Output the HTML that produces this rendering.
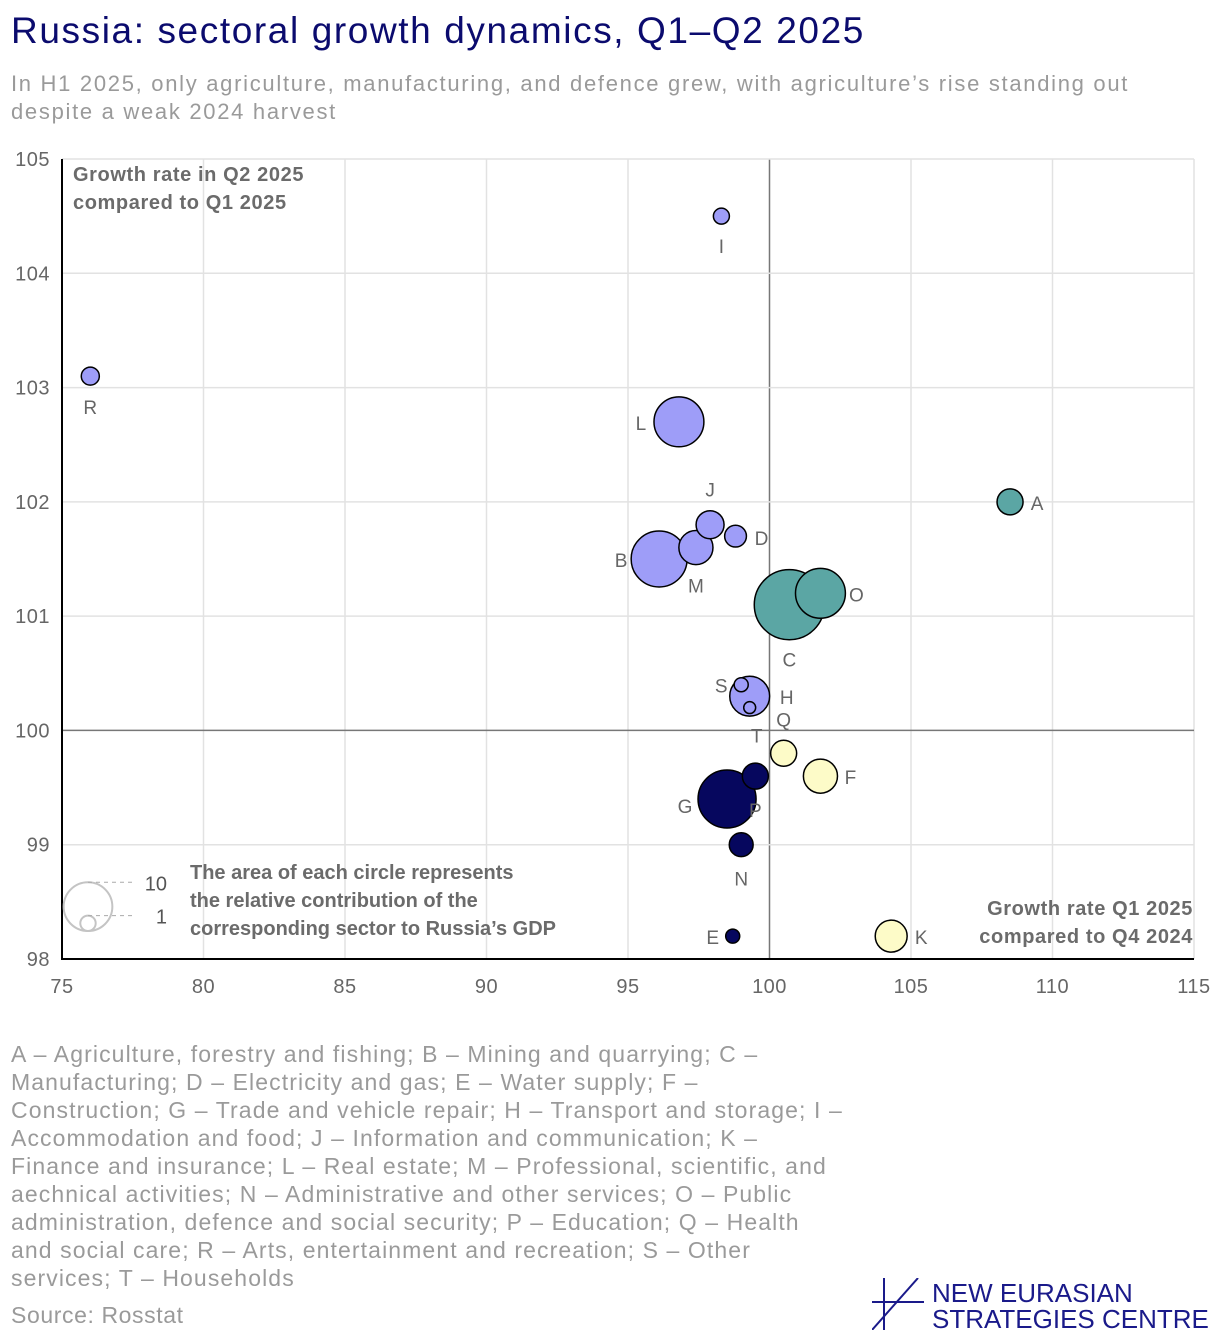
<!DOCTYPE html>
<html><head><meta charset="utf-8">
<style>
body{margin:0;background:#fff;width:1220px;height:1340px;position:relative;font-family:"Liberation Sans",sans-serif;overflow:hidden}
.title{position:absolute;left:11px;top:10px;font-size:37px;color:#0b0b6e;letter-spacing:1.6px;white-space:nowrap}
.sub{position:absolute;left:11px;top:70px;font-size:22px;color:#9a9a9a;line-height:28px;letter-spacing:1.7px;white-space:nowrap}
.notes{position:absolute;left:11px;top:1040px;font-size:23px;color:#9a9a9a;line-height:28px;letter-spacing:1.1px;white-space:nowrap}
.src{position:absolute;left:11px;top:1302px;font-size:23px;color:#9a9a9a;letter-spacing:0.6px}
.logotext{position:absolute;left:932px;top:1280px;font-size:26px;line-height:26px;color:#1a1a8a;white-space:nowrap;letter-spacing:0px}
svg{position:absolute;left:0;top:0}
</style></head><body>
<div class="title">Russia: sectoral growth dynamics, Q1–Q2 2025</div>
<div class="sub">In H1 2025, only agriculture, manufacturing, and defence grew, with agriculture’s rise standing out<br>despite a weak 2024 harvest</div>
<svg id="chart" width="1220" height="1000"></svg>
<div class="notes">A – Agriculture, forestry and fishing; B – Mining and quarrying; C –<br>Manufacturing; D – Electricity and gas; E – Water supply; F –<br>Construction; G – Trade and vehicle repair; H – Transport and storage; I –<br>Accommodation and food; J – Information and communication; K –<br>Finance and insurance; L – Real estate; M – Professional, scientific, and<br>aechnical activities; N – Administrative and other services; O – Public<br>administration, defence and social security; P – Education; Q – Health<br>and social care; R – Arts, entertainment and recreation; S – Other<br>services; T – Households</div>
<div class="src">Source: Rosstat</div>
<svg width="52" height="52" style="left:872px;top:1278px">
<line x1="12" y1="0" x2="12" y2="52" stroke="#1a1a8a" stroke-width="2"/>
<line x1="0" y1="24" x2="52" y2="24" stroke="#1a1a8a" stroke-width="2"/>
<line x1="46" y1="0" x2="0" y2="52" stroke="#1a1a8a" stroke-width="2"/>
</svg>
<div class="logotext">NEW EURASIAN<br>STRATEGIES CENTRE</div>
<script>
const labels=["A","B","C","D","E","F","G","H","I","J","K","L","M","N","O","P","Q","R","S","T"];
const q1Growth=[108.5,96.1,100.7,98.8,98.7,101.8,98.5,99.3,98.3,97.9,104.3,96.8,97.4,99.0,101.8,99.5,100.5,76.0,99.0,99.3];
const q2Growth=[102.0,101.5,101.1,101.7,98.2,99.6,99.4,100.3,104.5,101.8,98.2,102.7,101.6,99.0,101.2,99.6,99.8,103.1,100.4,100.2];
const gdpShare=[2.85,13.2,20.7,2.0,0.83,4.9,14.2,6.7,1.08,3.3,4.3,10.5,4.9,2.4,10.5,2.85,2.85,1.37,0.83,0.6];
const groups=["teal","lav","teal","lav","navy","yellow","navy","lav","lav","lav","yellow","lav","lav","navy","teal","navy","yellow","lav","lav","lav"];
const xTicks=[75,80,85,90,95,100,105,110,115];
const yTicks=[98,99,100,101,102,103,104,105];
const colors={teal:"#5ba6a4",lav:"#9e9df8",navy:"#06075e",yellow:"#fdfbc8"};
// label placement (layout)
const lblOff={A:[27,1],B:[-38,1],C:[0,55],D:[26,2],E:[-20,1],F:[30,1],G:[-42,7],H:[37,1],I:[0,30],J:[0,-35],K:[30,1],L:[-38,1],M:[0,38],N:[0,34],O:[36,1],P:[0,34],Q:[0,-34],R:[0,31],S:[-20,1],T:[7,28]};
const svg=document.getElementById('chart');
const NS="http://www.w3.org/2000/svg";
const X0=62,X1=1194,Y0=959,Y1=159;
const xs=v=>X0+(v-75)/(115-75)*(X1-X0);
const ys=v=>Y0-(v-98)/(105-98)*(Y0-Y1);
const rs=v=>7.7*Math.sqrt(v);
function mk(t,a,txt){const e=document.createElementNS(NS,t);for(const k in a)e.setAttribute(k,a[k]);if(txt!==undefined)e.textContent=txt;svg.appendChild(e);return e;}
xTicks.forEach(t=>{
 const g=mk('line',{x1:xs(t),x2:xs(t),y1:Y1,y2:Y0,stroke:t===100?'#777':'#e2e2e2','stroke-width':1.5});
 
 
 const l=mk('text',{x:xs(t),y:Y0+34,'text-anchor':'middle','font-size':20,fill:'#666','letter-spacing':'0.5'},t);
 
 
});
yTicks.forEach(t=>{
 const g=mk('line',{x1:X0,x2:X1,y1:ys(t),y2:ys(t),stroke:t===100?'#777':'#e2e2e2','stroke-width':1.5});
 
 
 const l=mk('text',{x:X0-12,y:ys(t)+7,'text-anchor':'end','font-size':20,fill:'#666','letter-spacing':'0.5'},t);
 
 
});
const ax=mk('path',{d:`M${X0} ${Y1} V${Y0} H${X1}`,fill:'none',stroke:'#000','stroke-width':2});


function bold(x,y,lines,anchor,name,ls){
 const t=mk('text',{x:x,y:y,'font-size':20,'font-weight':'bold',fill:'#6b6b6b','text-anchor':anchor,'letter-spacing':ls});
 
 
 lines.forEach((s,i)=>{const ts=document.createElementNS(NS,'tspan');ts.setAttribute('x',x);ts.setAttribute('dy',i?28:0);ts.textContent=s;t.appendChild(ts);});
}
bold(73,181,["Growth rate in Q2 2025","compared to Q1 2025"],'start','y-axis-title','0.6');
bold(1193,915,["Growth rate Q1 2025","compared to Q4 2024"],'end','x-axis-title','0.6');
bold(190,879,["The area of each circle represents","the relative contribution of the","corresponding sector to Russia’s GDP"],'start','size-legend-text','0');
const lb=931;
[[10,'10'],[1,'1']].forEach(([v,s])=>{
 const r=rs(v);
 const c=mk('circle',{cx:88,cy:lb-r,r:r,fill:'none',stroke:'#c4c4c4','stroke-width':2});
 
 
 mk('line',{x1:88,x2:133,y1:lb-2*r,y2:lb-2*r,stroke:'#aaa','stroke-dasharray':'4 4','stroke-width':1});
 const t=mk('text',{x:167,y:lb-2*r+8,'text-anchor':'end','font-size':20,fill:'#555'},s);
 
 
});
const idx=labels.map((_,i)=>i).sort((a,b)=>gdpShare[b]-gdpShare[a]);
idx.forEach(i=>{
 const c=mk('circle',{cx:xs(q1Growth[i]),cy:ys(q2Growth[i]),r:rs(gdpShare[i]),fill:colors[groups[i]],stroke:'#000','stroke-width':1.5});
 
 
});
labels.forEach((L,i)=>{
 const o=lblOff[L];
 const t=mk('text',{x:xs(q1Growth[i])+o[0],y:ys(q2Growth[i])+o[1]+7,'text-anchor':'middle','font-size':19,fill:'#666'},L);
 
 
});
</script>
</body></html>
